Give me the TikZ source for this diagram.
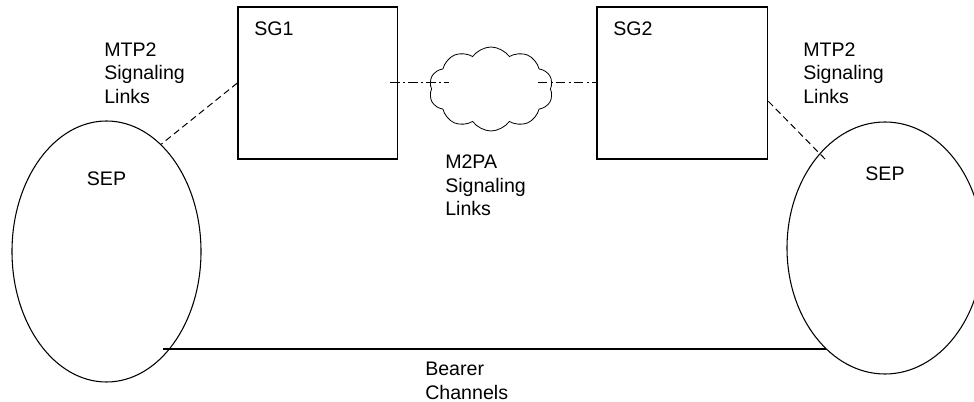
\documentclass[tikz,border=0pt]{standalone}
\usepackage{fontspec}
\setmainfont{Liberation Sans}
\usetikzlibrary{shapes.geometric, shapes.symbols, positioning}
\tikzset{
    sgBox/.style={rectangle, draw, line width=0.9pt, minimum height=114pt, inner sep=0pt},
    sepNode/.style={ellipse, draw, line width=0.8pt, inner sep=0pt},
    netCloud/.style={cloud, draw, cloud puffs=10, cloud puff arc=110, aspect=1.5, line width=0.6pt, minimum width=93pt, minimum height=63pt, inner sep=0pt},
    txt/.style={align=left, inner sep=0pt, font=\fontsize{14.7}{17.6}\selectfont},
    sgName/.style={label={[txt, anchor=north west, xshift=12.5pt, yshift=-11.25pt]north west:#1}},
    sepName/.style={label={[txt, anchor=north, yshift=#1]north:SEP}},
    mtpLink/.style={line width=0.75pt, dash pattern=on 5pt off 3pt},
    m2paLink/.style={line width=0.75pt, dash pattern=on 7pt off 2.5pt on 1.5pt off 2.5pt},
    bearerLink/.style={line width=1.2pt},
}

\begin{document}
\begin{tikzpicture}[x=0.75pt, y=-0.75pt]
        \useasboundingbox (0,0) rectangle (974,402);

        \node[sgBox, minimum width=119.8pt, sgName=SG1] (sg1) at (317.85,83) {};
        \node[sgBox, minimum width=128pt, sgName=SG2] (sg2) at (682.35,83) {};
        \node[netCloud] (cloud) at (491,89) {};

        \node[sepNode, minimum width=141.75pt, minimum height=195.75pt, sepName=-38.25pt] (sepL) at (106.5,251.5) {};
        \node[sepNode, minimum width=147pt, minimum height=189pt, sepName=-33.75pt] (sepR) at (885,248) {};
        \coordinate (mtpEndR) at (825,159);

        \node[txt, anchor=north west] (mtpTxtL) at (104,42.3) {MTP2\\Signaling\\Links};
        \node[txt, anchor=north west] (mtpTxtR) at (803,42.3) {MTP2\\Signaling\\Links};
        \node[txt, anchor=north west] (m2paTxt) at (445,155) {M2PA\\Signaling\\Links};
        \node[txt, anchor=north west] (bearerTxt) at (425,362) {Bearer\\Channels};

        \draw[mtpLink] (sg1.west) -- (sepL.63);
        \draw[mtpLink] (sg2.-12.5) -- (mtpEndR);
        \draw[m2paLink, shorten <=-6pt, shorten >=-13.5pt] (sg1.east) -- (sg1.east -| cloud.west);
        \draw[m2paLink, shorten <=-9.75pt] (cloud.east |- sg2.west) -- (sg2.west);
        \draw[bearerLink, shorten <=-5pt] (sepL.-57) -- (sepL.-57 -| sepR.-120);

    \end{tikzpicture}
\end{document}
